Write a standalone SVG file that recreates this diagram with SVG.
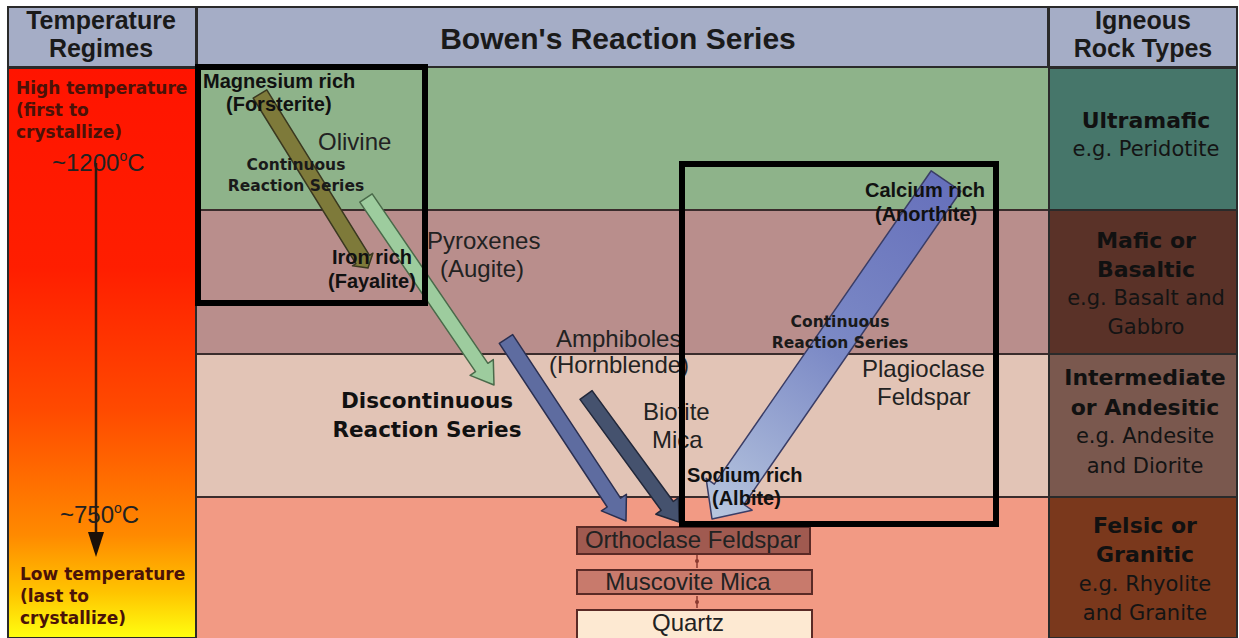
<svg xmlns="http://www.w3.org/2000/svg" width="1239" height="638" viewBox="0 0 1239 638">
<defs>
<linearGradient id="tempGrad" x1="0" y1="68" x2="0" y2="638" gradientUnits="userSpaceOnUse">
<stop offset="0" stop-color="#ff1400"/>
<stop offset="0.35" stop-color="#ff1e00"/>
<stop offset="0.6" stop-color="#ff4a00"/>
<stop offset="0.82" stop-color="#ff8a00"/>
<stop offset="0.92" stop-color="#ffc400"/>
<stop offset="1" stop-color="#ffff10"/>
</linearGradient>
<linearGradient id="plagGrad" x1="946" y1="181" x2="712" y2="519" gradientUnits="userSpaceOnUse">
<stop offset="0" stop-color="#6670bb"/>
<stop offset="0.5" stop-color="#7c8ac6"/>
<stop offset="1" stop-color="#b8c7df"/>
</linearGradient>
</defs>
<style>
.hdr{fill:#a5adc6;stroke:#2a2a2a;stroke-width:2}
.hdrT{font-family:"Liberation Sans",Arial,sans-serif;font-weight:bold;font-size:25px;fill:#1a1a1a}
.band{stroke:none}
.div{stroke:#3a2c2c;stroke-width:2}
.lbl{font-family:"Liberation Sans",Arial,sans-serif;font-size:24px;fill:#222}
.rich{font-family:"Liberation Sans",Arial,sans-serif;font-weight:bold;font-size:20px;fill:#111}
.crs{font-family:"DejaVu Sans",Verdana,sans-serif;font-weight:bold;font-size:15.5px;fill:#1a1a1a}
.drs{font-family:"DejaVu Sans",Verdana,sans-serif;font-weight:bold;font-size:21.5px;fill:#111}
.tmp{font-family:"DejaVu Sans",Verdana,sans-serif;font-weight:bold;font-size:17px;fill:#4a1208}
.deg{font-family:"Liberation Sans",Arial,sans-serif;font-size:24px;fill:#222}
.rB{font-family:"DejaVu Sans",Verdana,sans-serif;font-weight:bold;font-size:22px;fill:#111;text-anchor:middle}
.rN{font-family:"DejaVu Sans",Verdana,sans-serif;font-size:21px;fill:#141414;text-anchor:middle}
.frame{fill:none;stroke:#000;stroke-width:6}
.box{stroke:#5a2a26;stroke-width:2}
</style>

<!-- Header row -->
<g id="header">
<rect class="hdr" x="8" y="7" width="188" height="60"/>
<rect class="hdr" x="197" y="7" width="851" height="60"/>
<rect class="hdr" x="1049" y="7" width="188" height="60"/>
<text class="hdrT" x="101" y="29" text-anchor="middle">Temperature</text>
<text class="hdrT" x="101" y="57" text-anchor="middle">Regimes</text>
<text class="hdrT" x="618" y="49" text-anchor="middle" style="font-size:30px">Bowen's Reaction Series</text>
<text class="hdrT" x="1143" y="29" text-anchor="middle">Igneous</text>
<text class="hdrT" x="1143" y="57" text-anchor="middle">Rock Types</text>
</g>

<!-- Middle bands -->
<g id="bands">
<rect class="band" x="197" y="68" width="851" height="142" fill="#8eb38a"/>
<rect class="band" x="197" y="210" width="851" height="144" fill="#b98e8c"/>
<rect class="band" x="197" y="354" width="851" height="143" fill="#e2c4b6"/>
<rect class="band" x="197" y="497" width="851" height="141" fill="#f29a84"/>
<line class="div" x1="197" y1="210" x2="1048" y2="210"/>
<line class="div" x1="197" y1="354" x2="1048" y2="354"/>
<line class="div" x1="197" y1="497" x2="1048" y2="497"/>
</g>

<!-- Temperature column -->
<g id="temperature">
<rect x="8" y="68" width="188" height="570" fill="url(#tempGrad)" stroke="#2a2a2a" stroke-width="2"/>
<text class="tmp" x="16" y="94">High temperature</text>
<text class="tmp" x="16" y="116">(first to</text>
<text class="tmp" x="16" y="138">crystallize)</text>
<text class="deg" x="52" y="171">~1200<tspan dy="-10" font-size="14">o</tspan><tspan dy="10">C</tspan></text>
<text class="deg" x="60" y="523">~750<tspan dy="-10" font-size="14">o</tspan><tspan dy="10">C</tspan></text>
<text class="tmp" x="20" y="580">Low temperature</text>
<text class="tmp" x="20" y="602">(last to</text>
<text class="tmp" x="20" y="624">crystallize)</text>
<line x1="96" y1="163" x2="96" y2="540" stroke="#2a1a10" stroke-width="2.5"/>
<polygon points="88,532 104,532 96,557" fill="#1a1008"/>
</g>

<!-- Rock type column -->
<g id="rock-types">
<rect x="1049" y="68" width="188" height="142" fill="#46766a" stroke="#2a2a2a" stroke-width="2"/>
<rect x="1049" y="210" width="188" height="144" fill="#5a3228" stroke="#2a2a2a" stroke-width="2"/>
<rect x="1049" y="354" width="188" height="143" fill="#7a584e" stroke="#2a2a2a" stroke-width="2"/>
<rect x="1049" y="497" width="188" height="141" fill="#7a381c" stroke="#2a2a2a" stroke-width="2"/>
<text class="rB" x="1146" y="128">Ultramafic</text>
<text class="rN" x="1146" y="156">e.g. Peridotite</text>
<text class="rB" x="1146" y="248">Mafic or</text>
<text class="rB" x="1146" y="277">Basaltic</text>
<text class="rN" x="1146" y="305">e.g. Basalt and</text>
<text class="rN" x="1146" y="334">Gabbro</text>
<text class="rB" x="1145" y="385">Intermediate</text>
<text class="rB" x="1145" y="415">or Andesitic</text>
<text class="rN" x="1145" y="443">e.g. Andesite</text>
<text class="rN" x="1145" y="473">and Diorite</text>
<text class="rB" x="1145" y="533">Felsic or</text>
<text class="rB" x="1145" y="562">Granitic</text>
<text class="rN" x="1145" y="591">e.g. Rhyolite</text>
<text class="rN" x="1145" y="620">and Granite</text>
</g>

<!-- Connectors / mineral arrows -->
<g id="connectors">
<polygon id="olivine-arrow" points="253.2,98.2 355.9,263.7 352.5,265.8 368,268 372.9,253.2 369.5,255.3 266.8,89.8" fill="#7e7a3a" stroke="#3a3820" stroke-width="1.5" stroke-linejoin="round"/>
<polygon id="pyroxene-arrow" points="359.8,202.2 475.5,371.7 470.1,375.4 494,385 493.3,359.6 487.9,363.3 372.2,193.8" fill="#9dcc9e" stroke="#4a6a4a" stroke-width="1.5" stroke-linejoin="round"/>
<polygon id="amphibole-arrow" points="499.3,343.4 607.2,507 601.4,510.9 626,521 626.4,494.3 620.6,498.2 512.7,334.6" fill="#5e6ca0" stroke="#2a2f50" stroke-width="1.5" stroke-linejoin="round"/>
<polygon id="biotite-arrow" points="580,399.4 661.1,510.3 655.9,514.2 679,522 678.5,497.6 673.3,501.5 592.1,390.6" fill="#45526e" stroke="#22283a" stroke-width="1.5" stroke-linejoin="round"/>
<polygon id="plagioclase-arrow" points="931.2,170.8 714.3,484.1 706.1,478.4 712,519 752.1,510.2 743.9,504.5 960.8,191.2" fill="url(#plagGrad)" stroke="#3a3d66" stroke-width="1.5" stroke-linejoin="round"/>
<line x1="697" y1="555" x2="697" y2="568" stroke="#8a3a30" stroke-width="1.5"/>
<circle cx="697" cy="561" r="2" fill="#8a3a30"/>
<line x1="697" y1="596" x2="697" y2="608" stroke="#8a3a30" stroke-width="1.5"/>
<circle cx="697" cy="602" r="2" fill="#8a3a30"/>
</g>

<!-- Olivine node -->
<g id="olivine">
<text class="rich" x="203" y="88">Magnesium rich</text>
<text class="rich" x="226" y="111">(Forsterite)</text>
<text class="lbl" x="318" y="150">Olivine</text>
<text class="crs" x="296" y="170" text-anchor="middle">Continuous</text>
<text class="crs" x="296" y="191" text-anchor="middle">Reaction Series</text>
<text class="rich" x="332" y="264">Iron rich</text>
<text class="rich" x="328" y="288">(Fayalite)</text>
</g>

<g id="pyroxenes">
<text class="lbl" x="427" y="249">Pyroxenes</text>
<text class="lbl" x="440" y="277">(Augite)</text>
</g>

<g id="amphiboles">
<text class="lbl" x="556" y="347">Amphiboles</text>
<text class="lbl" x="549" y="373">(Hornblende)</text>
</g>

<g id="biotite">
<text class="lbl" x="643" y="420">Biotite</text>
<text class="lbl" x="652" y="448">Mica</text>
</g>

<g id="discontinuous">
<text class="drs" x="427" y="408" text-anchor="middle">Discontinuous</text>
<text class="drs" x="427" y="437" text-anchor="middle">Reaction Series</text>
</g>

<g id="plagioclase">
<text class="rich" x="865" y="197">Calcium rich</text>
<text class="rich" x="875" y="221">(Anorthite)</text>
<text class="crs" x="840" y="327" text-anchor="middle">Continuous</text>
<text class="crs" x="840" y="348" text-anchor="middle">Reaction Series</text>
<text class="lbl" x="862" y="377">Plagioclase</text>
<text class="lbl" x="877" y="405">Feldspar</text>
<text class="rich" x="687" y="482">Sodium rich</text>
<text class="rich" x="712" y="505">(Albite)</text>
</g>

<g id="orthoclase">
<rect class="box" x="577" y="527" width="233" height="27" fill="#a05a50"/>
<text class="lbl" x="693" y="548" text-anchor="middle">Orthoclase Feldspar</text>
</g>
<g id="muscovite">
<rect class="box" x="577" y="570" width="235" height="24" fill="#c87a6c"/>
<text class="lbl" x="688" y="590" text-anchor="middle">Muscovite Mica</text>
</g>
<g id="quartz">
<rect class="box" x="577" y="610" width="235" height="30" fill="#fde9d2"/>
<text class="lbl" x="688" y="631" text-anchor="middle">Quartz</text>
</g>

<!-- Highlight frames -->
<g id="frames">
<rect class="frame" x="198" y="67" width="227" height="236"/>
<rect class="frame" x="682" y="164" width="314" height="360"/>
</g>
</svg>
